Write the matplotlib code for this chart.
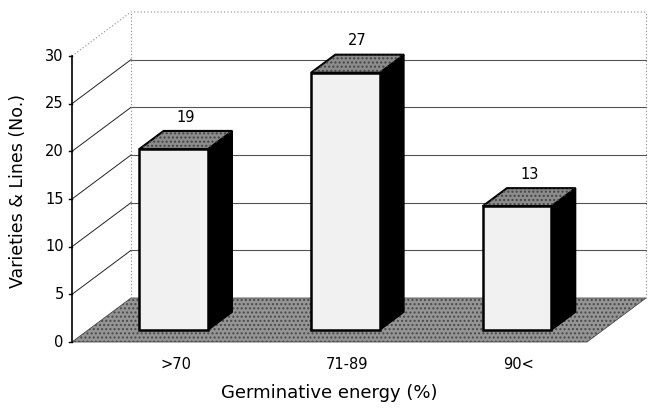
import matplotlib
matplotlib.use("Agg")
import matplotlib.pyplot as plt
from matplotlib.patches import Polygon
import numpy as np

plt.rcParams['font.family'] = ['DejaVu Sans']

# ---- data ----
categories = [">70", "71-89", "90<"]
values = [19, 27, 13]
yticks = [0, 5, 10, 15, 20, 25, 30]
xlabel = "Germinative energy (%)"
ylabel = "Varieties & Lines (No.)"

# ---- 3D-ish projection (oblique) ----
W, H = 652, 415
fig = plt.figure(figsize=(W / 100, H / 100), dpi=100)
ax = fig.add_axes([0, 0, 1, 1])
# pixel layout of front plane
PX_X0, PX_X1 = 72, 587      # x=-0.5 .. 2.5 at depth 0
PX_Y0, PX_Y30 = 342, 56     # y=0 .. 30 at depth 0
sx = (PX_X1 - PX_X0) / 3.0
sy = (PX_Y0 - PX_Y30) / 30.0
ax.set_xlim(-0.5 - PX_X0 / sx, 2.5 + (W - PX_X1) / sx)
ax.set_ylim(-(H - PX_Y0) / sy, 30 + PX_Y30 / sy)
ax.axis('off')

DX = 59 / sx   # depth offset in data units
DY = 44 / sy

def P(x, y, d):
    return (x + d * DX, y + d * DY)

XMIN, XMAX = -0.5, len(categories) - 0.5
YMAX = yticks[-1]

# floor
floor = Polygon([P(XMIN, 0, 0), P(XMAX, 0, 0), P(XMAX, 0, 1), P(XMIN, 0, 1)],
                closed=True, facecolor='#959595', edgecolor='#4a4a4a',
                hatch='....', linewidth=0.6, zorder=1)
ax.add_patch(floor)

# walls: gridlines
for v in yticks[1:]:
    if v == YMAX:
        pts = [P(XMIN, v, 0), P(XMIN, v, 1), P(XMAX, v, 1)]
        xs, ys = zip(*pts)
        ax.plot(xs, ys, color='#888888', lw=0.8, ls=(0, (1, 2)), zorder=2)
    else:
        a, b, c = P(XMIN, v, 0), P(XMIN, v, 1), P(XMAX, v, 1)
        ax.plot([a[0], b[0]], [a[1], b[1]], color='#222222', lw=0.7, zorder=2)
        ax.plot([b[0], c[0]], [b[1], c[1]], color='#555555', lw=0.8, zorder=2)
# wall dotted edges
for a, b in [(P(XMIN, 0, 1), P(XMIN, YMAX, 1)), (P(XMAX, 0, 1), P(XMAX, YMAX, 1))]:
    ax.plot([a[0], b[0]], [a[1], b[1]], color='#888888', lw=0.8, ls=(0, (1, 2)), zorder=2)

# front axis line and ticks
a, b = P(XMIN, 0, 0), P(XMIN, YMAX, 0)
ax.plot([a[0], b[0]], [a[1], b[1]], color='black', lw=1.2, zorder=3)
for v in yticks:
    x0, y0 = P(XMIN, v, 0)
    ax.plot([x0 - 3 / sx, x0], [y0, y0], color='black', lw=1.0, zorder=3)
    ax.annotate(str(v), (x0, y0), xytext=(-6, 0), textcoords='offset points',
                ha='right', va='center', fontsize=10.5)

# bars
BW = 0.4
D0, D1 = 0.27, 0.68
for i, v in enumerate(values):
    x0, x1 = i - BW / 2, i + BW / 2
    side = Polygon([P(x1, 0, D0), P(x1, 0, D1), P(x1, v, D1), P(x1, v, D0)],
                   closed=True, facecolor='black', edgecolor='black', lw=1.0, zorder=4)
    top = Polygon([P(x0, v, D0), P(x1, v, D0), P(x1, v, D1), P(x0, v, D1)],
                  closed=True, facecolor='#8c8c8c', edgecolor='black', lw=1.5, zorder=4)
    top_h = Polygon([P(x0, v, D0), P(x1, v, D0), P(x1, v, D1), P(x0, v, D1)],
                    closed=True, facecolor='none', edgecolor='#444444', hatch='....', lw=0, zorder=4)
    front = Polygon([P(x0, 0, D0), P(x1, 0, D0), P(x1, v, D0), P(x0, v, D0)],
                    closed=True, facecolor='#f1f1f1', edgecolor='black', lw=1.8, zorder=5)
    for p in (side, top, top_h, front):
        ax.add_patch(p)
    lx, ly = P(i, v, (D0 + D1) / 2)
    ax.annotate(str(v), (lx, ly), xytext=(0, 11), textcoords='offset points',
                ha='center', va='bottom', fontsize=10.5)

# category labels
for i, c in enumerate(categories):
    cx, cy = P(i, 0, 0.3)
    ax.annotate(c, (cx, P(i, 0, 0)[1]), xytext=(0, -16.5), textcoords='offset points',
                ha='center', va='center', fontsize=10.5)

# axis titles
ax.text(-0.5 + (329 - PX_X0) / sx, -(393 - PX_Y0) / sy, xlabel,
        ha='center', va='center', fontsize=13)
ax.text(-0.5 - (PX_X0 - 18) / sx, (PX_Y0 - 191) / sy, ylabel,
        ha='center', va='center', rotation=90, fontsize=12.5)

fig.savefig('out.png', dpi=100)
